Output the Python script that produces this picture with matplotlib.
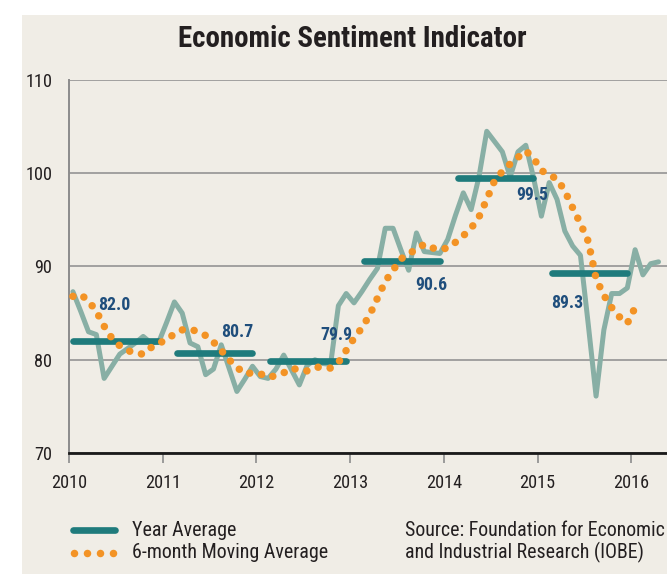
import numpy as np
import matplotlib
matplotlib.use("Agg")
import matplotlib.pyplot as plt
from matplotlib.lines import Line2D
from matplotlib.patches import Rectangle

plt.rcParams["font.family"] = ["Roboto Condensed", "Saira SemiCondensed", "DejaVu Sans"]

# monthly Economic Sentiment Indicator, Jan 2010 - Apr 2016
esi = [
    87.3, 85.2, 83.0, 82.7, 78.0, 79.3, 80.6, 81.2, 81.8, 82.5, 81.8, 81.9,   # 2010
    84.0, 86.2, 85.0, 81.8, 81.4, 78.4, 79.0, 81.6, 79.1, 76.6, 77.9, 79.3,   # 2011
    78.2, 78.0, 79.0, 80.5, 78.9, 77.3, 79.4, 80.0, 79.6, 79.5, 85.8, 87.1,   # 2012
    86.1, 87.3, 88.6, 89.8, 94.1, 94.1, 91.8, 89.6, 93.6, 91.6, 91.5, 91.4,   # 2013
    92.9, 95.5, 97.9, 96.1, 99.6, 104.5, 103.4, 102.3, 99.6, 102.3, 103.0, 99.5,  # 2014
    95.4, 99.0, 97.2, 93.8, 92.2, 91.2, 83.8, 76.1, 83.2, 87.1, 87.1, 87.7,   # 2015
    91.8, 89.1, 90.3, 90.5,                                                   # 2016
]

# 6-month moving average, Jan 2010 - Jan 2016
moving_avg = [
    86.8, 87.0, 86.3, 85.2, 83.6, 82.3, 81.5, 81.0, 80.7, 80.6, 81.3, 81.8,
    82.1, 82.8, 83.2, 83.3, 83.0, 82.6, 81.9, 81.0, 80.0, 79.2, 78.5, 78.6,
    78.5, 78.1, 78.3, 78.6, 79.1, 78.9, 78.8, 79.2, 79.2, 79.1, 79.7, 81.0,
    82.3, 83.4, 84.8, 86.6, 88.4, 89.6, 90.8, 91.4, 91.8, 92.4, 92.0, 91.8,
    92.0, 92.6, 93.3, 94.1, 95.3, 97.2, 99.2, 100.2, 101.0, 101.7, 102.4, 101.6,
    100.3, 99.8, 99.4, 98.1, 96.3, 94.6, 92.7, 88.7, 86.9, 85.6, 84.6, 83.9,
    85.6,
]

years = [2010, 2011, 2012, 2013, 2014, 2015]
year_avg = [82.0, 80.7, 79.9, 90.6, 99.5, 89.3]
year_labels = ["82.0", "80.7", "79.9", "90.6", "99.5", "89.3"]

# where the value labels sit (data coords)
label_pos = [(2010.48, 85.9), (2011.80, 83.0), (2012.85, 82.7),
             (2013.87, 88.0), (2014.94, 97.7), (2015.32, 86.1)]

BG = "#F0EDE6"
LINE = "#88AFA5"
TEAL = "#1F7B7C"
ORANGE = "#F39325"
BLUE = "#1F4E7C"
GRID = "#8c8c8c"
INK = "#231F20"

W, H = 667, 574
fig = plt.figure(figsize=(W / 100, H / 100), dpi=100)
fig.patch.set_facecolor("white")
fig.patches.append(Rectangle((22 / W, 0), 1, (H - 15) / H, transform=fig.transFigure,
                             facecolor=BG, edgecolor="none", zorder=-10))

ax = fig.add_axes([69 / W, 1 - 453 / H, 1 - 69 / W, (453 - 80) / H])
ax.set_facecolor("none")

t_esi = 2010 + (np.arange(len(esi)) + 0.5) / 12
t_ma = 2010 + (np.arange(len(moving_avg)) + 0.5) / 12

ax.plot(t_esi, esi, color=LINE, lw=3.6, solid_joinstyle="round",
        solid_capstyle="round", zorder=3)

for y, v in zip(years, year_avg):
    start = y + (0.045 if y == 2010 else 0.15)
    ax.plot([start, y + 0.955], [v, v], color=TEAL, lw=4.8,
            solid_capstyle="round", zorder=4)

ax.plot(t_ma, moving_avg, color=ORANGE, lw=5.4, linestyle=(0, (0.01, 1.6)),
        dash_capstyle="round", zorder=5)

value_texts = []
for (x, y), s in zip(label_pos, year_labels):
    value_texts.append(ax.text(x, y, s, color=BLUE, fontsize=13, fontweight="bold",
                               ha="center", va="center", zorder=6))

ax.set_xlim(2010, 2010 + (W - 69) / 93.7)
ax.set_ylim(70, 110)
ax.set_xticks(range(2010, 2017))
ax.set_yticks([70, 80, 90, 100, 110])
ax.tick_params(axis="x", length=7, width=1.2, color=GRID, pad=8,
               labelsize=13, labelcolor=INK)
ax.tick_params(axis="y", length=0, pad=12, labelsize=13, labelcolor=INK)
ax.yaxis.grid(True, color=GRID, lw=1.1, zorder=0)
ax.set_axisbelow(True)
for s in ["top", "right"]:
    ax.spines[s].set_visible(False)
ax.spines["left"].set_color(GRID)
ax.spines["left"].set_linewidth(1.4)
ax.spines["bottom"].set_color("#1a1a1a")
ax.spines["bottom"].set_linewidth(2)
ax.spines["bottom"].set_zorder(6)

title = fig.text(352.5 / W, 1 - 39 / H, "Economic Sentiment Indicator", ha="center",
                 va="center", fontsize=16, fontweight="bold", color=INK)

# legend, drawn by hand
fig.add_artist(Line2D([73 / W, 115 / W], [1 - 530 / H, 1 - 530 / H],
                      transform=fig.transFigure, color=TEAL, lw=4.8,
                      solid_capstyle="round"))
fig.add_artist(Line2D([74 / W, 87 / W, 100 / W, 113 / W], [1 - 553 / H] * 4,
                      transform=fig.transFigure, color=ORANGE, lw=0,
                      marker="o", markersize=5.4, markeredgewidth=0))
leg1 = fig.text(132 / W, 1 - 530 / H, "Year Average", fontsize=12.5, va="center", color=INK)
leg2 = fig.text(132 / W, 1 - 552 / H, "6-month Moving Average", fontsize=12.5,
                va="center", color=INK)
src1 = fig.text(405 / W, 1 - 530 / H, "Source: Foundation for Economic", fontsize=12.5,
                va="center", color=INK)
src2 = fig.text(405 / W, 1 - 552 / H, "and Industrial Research (IOBE)", fontsize=12.5,
                va="center", color=INK)

# size texts so their widths match the reference
renderer = fig.canvas.get_renderer()


def fit(texts, target):
    w = texts[0].get_window_extent(renderer).width
    fs = texts[0].get_fontsize() * target / w
    for t in texts:
        t.set_fontsize(fs)


fit([title], 349)
fit([leg2, leg1], 198)
fit([src2, src1], 241)
fit(value_texts, 32)

fig.canvas.draw()
w = ax.get_xticklabels()[0].get_window_extent(renderer).width
ax.tick_params(axis="both", labelsize=13 * 36 / w)

fig.savefig("out.png", dpi=100)
